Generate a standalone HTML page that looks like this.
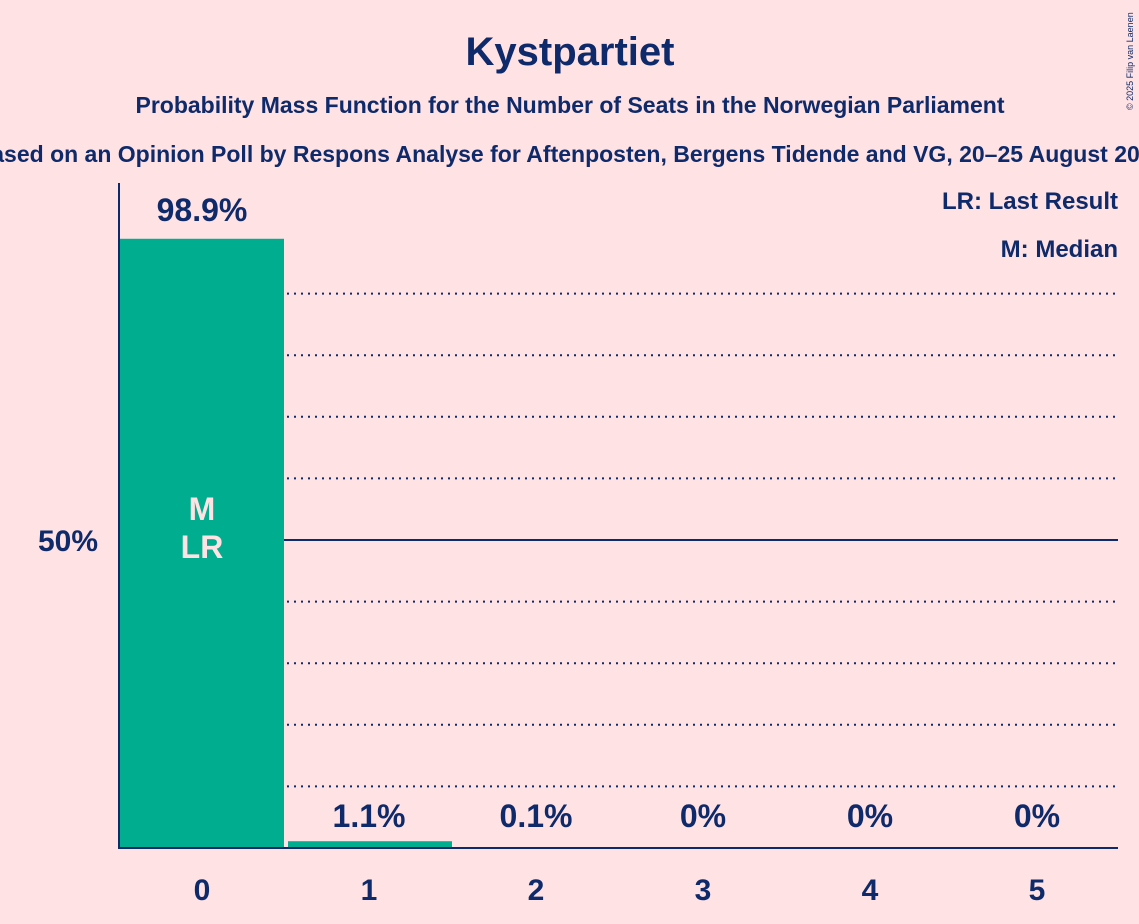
<!DOCTYPE html>
<html><head><meta charset="utf-8"><style>
body{margin:0;background:#ffe2e3;}
svg{display:block;font-family:"Liberation Sans",sans-serif;}
</style></head><body>
<svg width="1139" height="924" viewBox="0 0 1139 924">
<rect width="1139" height="924" fill="#ffe2e3"/>
<text x="570" y="65" text-anchor="middle" font-size="40" font-weight="bold" fill="#0e2a6a">Kystpartiet</text>
<text x="570" y="113" text-anchor="middle" font-size="23" font-weight="bold" fill="#0e2a6a">Probability Mass Function for the Number of Seats in the Norwegian Parliament</text>
<text x="570" y="162" text-anchor="middle" font-size="23" font-weight="bold" fill="#0e2a6a">Based on an Opinion Poll by Respons Analyse for Aftenposten, Bergens Tidende and VG, 20–25 August 2025</text>
<text x="1133" y="110" font-size="9" fill="#0e2a6a" transform="rotate(-90 1133 110)">© 2025 Filip van Laenen</text>
<text x="1118" y="209" text-anchor="end" font-size="24" font-weight="bold" fill="#0e2a6a">LR: Last Result</text>
<text x="1118" y="257" text-anchor="end" font-size="24" font-weight="bold" fill="#0e2a6a">M: Median</text>
<g id="grid"></g>
<g id="bars"></g>
<line x1="119" y1="183" x2="119" y2="849" stroke="#0e2a6a" stroke-width="2"/>
<line x1="118" y1="848" x2="1118" y2="848" stroke="#0e2a6a" stroke-width="2"/>
<text x="98" y="551" text-anchor="end" font-size="30" font-weight="bold" fill="#0e2a6a">50%</text>
</svg>
<script>
const seats=[0,1,2,3,4,5];
const probs=[98.9,1.1,0.1,0,0,0];
const labels=["98.9%","1.1%","0.1%","0%","0%","0%"];
const gridTicks=[10,20,30,40,50,60,70,80,90];
const medianSeat=0, lastResultSeat=0;
const NS="http://www.w3.org/2000/svg";
const x0=119,slot=167,base=848,pxPer=6.16;
const y=v=>base-v*pxPer;
const xs=i=>x0+slot*i;
const grid=document.getElementById('grid'),bars=document.getElementById('bars');
gridTicks.forEach(t=>{
 const l=document.createElementNS(NS,'line');
 l.setAttribute('x1',x0);l.setAttribute('x2',1118);
 l.setAttribute('y1',y(t));l.setAttribute('y2',y(t));
 l.setAttribute('stroke','#0e2a6a');
 if(t===50){l.setAttribute('stroke-width','2');}else{l.setAttribute('stroke-width','2');l.setAttribute('stroke-dasharray','2 5');}
 
 
 grid.appendChild(l);
});
seats.forEach((s,i)=>{
 const bx=xs(i)+(i===0?1:2), w=164;
 const r=document.createElementNS(NS,'rect');
 r.setAttribute('x',bx);r.setAttribute('width',w);
 r.setAttribute('y',y(probs[i]));r.setAttribute('height',Math.max(0,base-y(probs[i])));
 r.setAttribute('fill','#00ad8e');
 
 
 bars.appendChild(r);
 const cx=xs(i)+83;
 const t=document.createElementNS(NS,'text');
 t.setAttribute('x',cx);
 t.setAttribute('y',probs[i]>10?y(probs[i])-18:base-21);
 t.setAttribute('text-anchor','middle');t.setAttribute('font-size','32');t.setAttribute('font-weight','bold');t.setAttribute('fill','#0e2a6a');
 t.textContent=labels[i];
 
 
 bars.appendChild(t);
 const xt=document.createElementNS(NS,'text');
 xt.setAttribute('x',cx);xt.setAttribute('y',900);
 xt.setAttribute('text-anchor','middle');xt.setAttribute('font-size','30');xt.setAttribute('font-weight','bold');xt.setAttribute('fill','#0e2a6a');
 xt.textContent=s;
 
 
 bars.appendChild(xt);
});
[["M",medianSeat,520],["LR",lastResultSeat,558]].forEach(([txt,s,yy])=>{
 const t=document.createElementNS(NS,'text');
 t.setAttribute('x',xs(s)+83);t.setAttribute('y',yy);
 t.setAttribute('text-anchor','middle');t.setAttribute('font-size','32');t.setAttribute('font-weight','bold');t.setAttribute('fill','#ffe2e3');
 t.textContent=txt;
 
 
 bars.appendChild(t);
});
</script>
</body></html>
